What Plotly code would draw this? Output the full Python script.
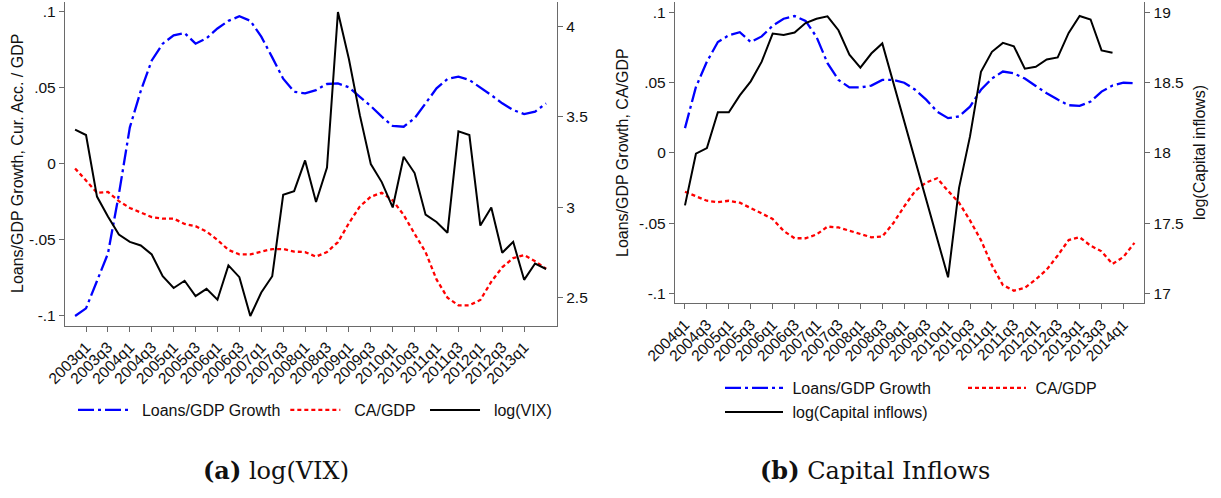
import plotly.graph_objects as go

W, H = 1221, 498

# ---------------- data: panel (a) ----------------
quarters_a = [f"{y}q{q}" for y in range(2002, 2014) for q in range(1, 5)][3:-1]  # 2002q4..2013q3
ticks_a = [f"{y}q{q}" for y in range(2003, 2014) for q in (1, 3)][:-1]           # 2003q1..2013q1

loans_a = [-0.100, -0.095, -0.077, -0.059, -0.020, 0.024, 0.048, 0.068, 0.079, 0.0845,
           0.086, 0.079, 0.0825, 0.089, 0.094, 0.097, 0.094, 0.0836, 0.070, 0.056,
           0.0474, 0.0463, 0.0485, 0.0525, 0.0529, 0.0503, 0.0441, 0.038, 0.031, 0.0249,
           0.0244, 0.030, 0.0398, 0.0496, 0.0558, 0.0573, 0.0551, 0.0503, 0.0452, 0.0398,
           0.0354, 0.0327, 0.0343, 0.0398]
ca_a = [-0.003, -0.011, -0.019, -0.0185, -0.0245, -0.029, -0.032, -0.035, -0.036, -0.036,
        -0.0395, -0.041, -0.0445, -0.050, -0.0566, -0.0595, -0.0595, -0.0577, -0.056, -0.056,
        -0.0577, -0.058, -0.061, -0.058, -0.0515, -0.039, -0.028, -0.0216, -0.019, -0.024,
        -0.0336, -0.046, -0.058, -0.076, -0.088, -0.093, -0.093, -0.0895, -0.0775, -0.068,
        -0.062, -0.060, -0.064, -0.069]
vix_a = [3.43, 3.40, 3.06, 2.95, 2.85, 2.81, 2.79, 2.74, 2.62, 2.555,
         2.595, 2.51, 2.55, 2.49, 2.68, 2.615, 2.40, 2.53, 2.62, 3.07,
         3.09, 3.26, 3.03, 3.22, 4.08, 3.82, 3.51, 3.24, 3.14, 3.00,
         3.28, 3.19, 2.96, 2.92, 2.86, 3.42, 3.40, 2.90, 3.00, 2.75,
         2.81, 2.60, 2.69, 2.66]

# ---------------- data: panel (b) ----------------
quarters_b = [f"{y}q{q}" for y in range(2004, 2015) for q in range(1, 5)][:-2]   # 2004q1..2014q2
ticks_b = [f"{y}q{q}" for y in range(2004, 2015) for q in (1, 3)][:-1]            # 2004q1..2014q1

loans_b = [0.0177, 0.047, 0.065, 0.079, 0.0838, 0.086, 0.079, 0.083, 0.0906, 0.0956,
           0.0975, 0.094, 0.0826, 0.064, 0.052, 0.0467, 0.0467, 0.048, 0.052, 0.052,
           0.050, 0.045, 0.038, 0.0295, 0.0248, 0.026, 0.033, 0.045, 0.053, 0.058,
           0.0567, 0.053, 0.0477, 0.0425, 0.038, 0.034, 0.0335, 0.0366, 0.0437, 0.048,
           0.050, 0.0496]
ca_b = [-0.0276, -0.0307, -0.034, -0.035, -0.034, -0.0354, -0.039, -0.043, -0.047, -0.0555,
        -0.0607, -0.0607, -0.058, -0.0524, -0.053, -0.0555, -0.058, -0.060, -0.0595, -0.050,
        -0.038, -0.027, -0.021, -0.018, -0.027, -0.0354, -0.048, -0.062, -0.080, -0.094,
        -0.098, -0.096, -0.090, -0.083, -0.073, -0.062, -0.060, -0.066, -0.070, -0.079,
        -0.074, -0.064]
capin_b = [17.627, 17.995, 18.035, 18.29, 18.29, 18.41, 18.51, 18.65, 18.85, 18.84,
           18.857, 18.925, 18.956, 18.973, 18.874, 18.70, 18.607, 18.708, 18.78, None,
           None, None, None, None, 17.115, 17.752, 18.118, 18.578, 18.72, 18.784,
           18.76, 18.60, 18.614, 18.666, 18.68, 18.855, 18.975, 18.95, 18.73, 18.713]

left_ticks = [-0.1, -0.05, 0, 0.05, 0.1]
left_ticktext = ["-.1", "-.05", "0", ".05", ".1"]
vix_ticks = [2.5, 3, 3.5, 4]
vix_ticktext = ["2.5", "3", "3.5", "4"]
cap_ticks = [17, 17.5, 18, 18.5, 19]
cap_ticktext = ["17", "17.5", "18", "18.5", "19"]

BLUE, RED, BLACK = "#0000ff", "#ff0000", "#000000"
DASHDOT = "16px,4px,3px,4px"
DOT = "4px,3px"
AXCOL = "#6a6a6a"
SANS = "Liberation Sans, Arial, sans-serif"
SERIF = "DejaVu Serif, serif"
GAP2 = "\u00a0\u00a0"   # spacing between legend key and label (panel a)
GAP1 = "\u00a0"         # spacing between legend key and label (panel b)

fig = go.Figure()
fig.add_trace(go.Scatter(x=quarters_a, y=loans_a, mode="lines", name=GAP2 + "Loans/GDP Growth",
                         line=dict(color=BLUE, width=2.3, dash=DASHDOT), xaxis="x", yaxis="y",
                         legend="legend"))
fig.add_trace(go.Scatter(x=quarters_a, y=ca_a, mode="lines", name=GAP2 + "CA/GDP" + GAP1,
                         line=dict(color=RED, width=2.3, dash=DOT), xaxis="x", yaxis="y",
                         legend="legend"))
fig.add_trace(go.Scatter(x=quarters_a, y=vix_a, mode="lines", name=GAP2 + "log(VIX)",
                         line=dict(color=BLACK, width=2), xaxis="x", yaxis="y2",
                         legend="legend"))

fig.add_trace(go.Scatter(x=quarters_b, y=loans_b, mode="lines", name=GAP1 + "Loans/GDP Growth",
                         line=dict(color=BLUE, width=2.3, dash=DASHDOT), xaxis="x2", yaxis="y3",
                         legend="legend2"))
fig.add_trace(go.Scatter(x=quarters_b, y=ca_b, mode="lines", name=GAP1 + "CA/GDP",
                         line=dict(color=RED, width=2.3, dash=DOT), xaxis="x2", yaxis="y3",
                         legend="legend2"))
fig.add_trace(go.Scatter(x=quarters_b[:len(capin_b)], y=capin_b, mode="lines",
                         name=GAP1 + "log(Capital inflows)", connectgaps=True,
                         line=dict(color=BLACK, width=2), xaxis="x2", yaxis="y4",
                         legend="legend3"))

def px_x(v):
    return v / W

def px_y(v):
    return 1 - v / H

tickfont = dict(family=SANS, size=15.5, color="#111111")
common_axis = dict(showline=True, linecolor=AXCOL, linewidth=1.3, ticks="outside", ticklen=5,
                   tickcolor=AXCOL, tickwidth=1.3, showgrid=False, zeroline=False,
                   tickfont=tickfont, automargin=False)

fig.update_layout(
    width=W, height=H, margin=dict(l=0, r=0, t=0, b=0, autoexpand=False),
    paper_bgcolor="white", plot_bgcolor="white",
    xaxis=dict(domain=[px_x(65), px_x(557)], anchor="y", type="category",
               categoryorder="array", categoryarray=quarters_a,
               range=[-0.92, 44.0], tickvals=ticks_a, ticktext=ticks_a, tickangle=-45,
               **common_axis),
    yaxis=dict(domain=[px_y(326), px_y(2)], anchor="x", range=[-0.1066, 0.1064],
               tickvals=left_ticks, ticktext=left_ticktext, **common_axis),
    yaxis2=dict(overlaying="y", side="right", anchor="x", range=[2.345, 4.135],
                tickvals=vix_ticks, ticktext=vix_ticktext, **common_axis),
    xaxis2=dict(domain=[px_x(675), px_x(1144.3)], anchor="y3", type="category",
                categoryorder="array", categoryarray=quarters_b,
                range=[-0.91, 41.9], tickvals=ticks_b, ticktext=ticks_b, tickangle=-45,
                **common_axis),
    yaxis3=dict(domain=[px_y(303.3), px_y(1.7)], anchor="x2", range=[-0.107, 0.1077],
                tickvals=left_ticks, ticktext=left_ticktext, **common_axis),
    yaxis4=dict(overlaying="y3", side="right", anchor="x2", range=[16.93, 19.077],
                tickvals=cap_ticks, ticktext=cap_ticktext, **common_axis),
    legend=dict(orientation="h", x=px_x(73), y=px_y(410), xanchor="left", yanchor="middle",
                itemwidth=50, font=dict(family=SANS, size=16, color="#111111"),
                bgcolor="rgba(0,0,0,0)", traceorder="normal"),
    legend2=dict(orientation="h", x=px_x(720), y=px_y(388), xanchor="left", yanchor="middle",
                 itemwidth=58, entrywidth=170, font=dict(family=SANS, size=16, color="#111111"),
                 bgcolor="rgba(0,0,0,0)", traceorder="normal"),
    legend3=dict(orientation="h", x=px_x(720), y=px_y(412), xanchor="left", yanchor="middle",
                 itemwidth=58, font=dict(family=SANS, size=16, color="#111111"),
                 bgcolor="rgba(0,0,0,0)"),
    annotations=[
        dict(text="Loans/GDP Growth, Cur. Acc. / GDP", x=px_x(17), y=px_y(164),
             xref="paper", yref="paper", textangle=-90, showarrow=False,
             xanchor="center", yanchor="middle",
             font=dict(family=SANS, size=16, color="#111111")),
        dict(text="Loans/GDP Growth, CA/GDP", x=px_x(622), y=px_y(153),
             xref="paper", yref="paper", textangle=-90, showarrow=False,
             xanchor="center", yanchor="middle",
             font=dict(family=SANS, size=16, color="#111111")),
        dict(text="log(Capital inflows)", x=px_x(1199), y=px_y(153),
             xref="paper", yref="paper", textangle=-90, showarrow=False,
             xanchor="center", yanchor="middle",
             font=dict(family=SANS, size=16, color="#111111")),
        dict(text="<b>(a)</b> log(VIX)", x=px_x(276), y=px_y(470),
             xref="paper", yref="paper", showarrow=False,
             xanchor="center", yanchor="middle",
             font=dict(family=SERIF, size=24, color="#111111")),
        dict(text="<b>(b)</b> Capital Inflows", x=px_x(875), y=px_y(470),
             xref="paper", yref="paper", showarrow=False,
             xanchor="center", yanchor="middle",
             font=dict(family=SERIF, size=24, color="#111111")),
    ],
)

fig.write_html("out.html")
